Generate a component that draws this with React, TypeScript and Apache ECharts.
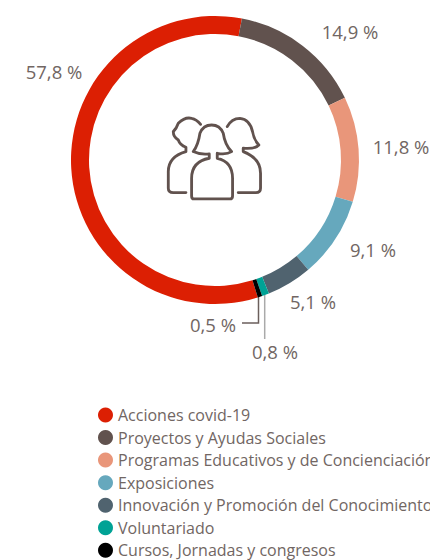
import React, { useEffect, useRef } from "react";
import * as echarts from "echarts";

const categories = ["Acciones covid-19", "Proyectos y Ayudas Sociales", "Programas Educativos y de Concienciación", "Exposiciones", "Innovación y Promoción del Conocimiento", "Voluntariado", "Cursos, Jornadas y congresos"];
const values = [57.8, 14.9, 11.8, 9.1, 5.1, 0.8, 0.5];
const labels = ["57,8 %", "14,9 %", "11,8 %", "9,1 %", "5,1 %", "0,8 %", "0,5 %"];
const colors = ["#dc1f03", "#61524e", "#e9967a", "#66a8bd", "#50636f", "#00a295", "#000000"];
const labelCentres = [[54, 71], [350, 31], [401, 146], [373, 249], [313, 301], [275, 351], [213, 324]];
const leaders: Record<number, number[][]> = {
  5: [[264.7, 294], [264.7, 339]],
  6: [[258.5, 296], [258.5, 323], [242, 323]],
};
const leaderColors: Record<number, string> = { 5: "#aaaaaa", 6: "#6b5f5c" };

const ICON =
  "M192 327H300Q308 327 308 318V265Q308 215 262 205V190Q290 195 305 185Q285 165 280 130Q270 105 245 105Q220 105 210 130Q205 165 190 185Q210 195 238 192V205Q185 215 185 265V318Q185 327 192 327Z" +
  "M168 308H130Q115 308 115 295V245Q115 200 168 185V172Q150 165 145 150Q130 140 130 125Q140 115 145 100Q165 80 185 85Q200 88 212 103" +
  "M292 110Q305 85 330 85Q360 88 368 125Q372 150 387 165Q375 178 340 175V185Q392 205 392 250V295Q392 308 378 308H325";
echarts.graphic.registerShape("peopleIcon", echarts.graphic.extendPath(ICON, {}));

const TEXT = "#716663";
const FONT = "'Open Sans', sans-serif";

export default function App() {
  const ref = useRef<HTMLDivElement>(null);
  useEffect(() => {
    document.body.style.margin = "0";
    const chart = echarts.init(ref.current!, null, { renderer: "svg" });
    chart.setOption({
      animation: false,
      color: colors,
      legend: {
        orient: "vertical",
        left: 93,
        top: 402,
        height: 180,
        icon: "circle",
        itemWidth: 15,
        itemHeight: 15,
        itemGap: 6.55,
        selectedMode: false,
        textStyle: { color: TEXT, fontFamily: FONT, fontSize: 16, fontWeight: 400 },
        data: categories,
      },
      series: [
        {
          type: "pie",
          center: [215, 160],
          radius: [126, 144],
          startAngle: -72.7,
          clockwise: true,
          silent: true,
          minAngle: 0,
          avoidLabelOverlap: false,
          itemStyle: { borderWidth: 0 },
          label: {
            show: true,
            position: "outside",
            formatter: (p: any) => labels[p.dataIndex],
            color: TEXT,
            fontFamily: FONT,
            fontSize: 18.5,
            fontWeight: 400,
          },
          labelLine: { show: true, length: 5, length2: 5, lineStyle: { width: 1.5 } },
          labelLayout: (p: any) => {
            const c = labelCentres[p.dataIndex];
            const out: any = { x: c[0], y: c[1], align: "center", verticalAlign: "middle" };
            if (leaders[p.dataIndex]) out.labelLinePoints = leaders[p.dataIndex];
            return out;
          },
          data: categories.map((name, i) => ({
            name,
            value: values[i],
            labelLine: {
              show: !!leaders[i],
              lineStyle: { color: leaderColors[i] ?? TEXT, width: 1.5 },
            },
          })),
        },
      ],
      graphic: [
        {
          type: "peopleIcon",
          x: 130,
          y: 90,
          scaleX: 1 / 3,
          scaleY: 1 / 3,
          style: { fill: "none", stroke: "#61524e", lineWidth: 8.5, lineJoin: "round", lineCap: "round" },
        },
      ],
    });
    return () => chart.dispose();
  }, []);
  return <div ref={ref} style={{ position: "absolute", left: 0, top: 0, width: 430, height: 560, overflow: "hidden" }} />;
}
